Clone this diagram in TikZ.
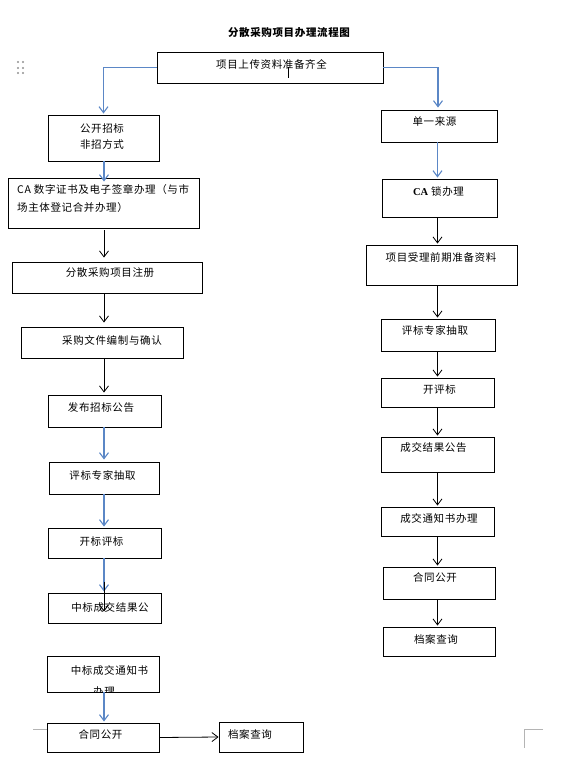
\documentclass[tikz,border=0pt]{standalone}
\usepackage{fontspec}
\setmainfont{Noto Sans CJK SC}[LetterSpace=6]
\newfontfamily\latinrm{Liberation Serif}
\usetikzlibrary{arrows.meta,calc}
\definecolor{flowblue}{HTML}{5B87C6}
\definecolor{markgrey}{HTML}{B4B4B4}

\begin{document}
\begin{tikzpicture}[x=1pt,y=-1pt,>={Straight Barb[length=6pt,width=9pt]},
  box/.style={draw,line width=0.9pt,inner sep=0pt},
  wh/.style 2 args={minimum width=#1pt,minimum height=#2pt},
  lbl/.style={inner sep=0pt,font=\fontsize{10.5}{12}\selectfont},
  blueflow/.style={->,draw=flowblue,line width=1.1pt},
  blackflow/.style={->,draw=black,line width=0.8pt}]

  \useasboundingbox (0,0) rectangle (567,757);

  \node[lbl,font=\fontsize{10.5}{12}\selectfont\bfseries] (title) at (289,33) {分散采购项目办理流程图};

  % top box
  \node[box,wh={226}{31}] (top) at (270,67.5) {};
  \node[lbl] (topt) at (271.5,64) {项目上传资料准备齐全};

  % left column
  \node[box,wh={111}{46}] (l1) at (103.5,138) {};
  \node[box,wh={191}{50}] (l2) at (103.5,203) {};
  \node[box,wh={190}{31}] (l3) at (107,277.5) {};
  \node[box,wh={162}{31}] (l4) at (102,342.5) {};
  \node[box,wh={113}{32}] (l5) at (104.5,411) {};
  \node[box,wh={110}{32}] (l6) at (104,478) {};
  \node[box,wh={113}{30}] (l7) at (104.5,543) {};
  \node[box,wh={113}{30}] (l8) at (104.5,608) {};
  \node[box,wh={112}{36}] (l9) at (103,674) {};
  \node[box,wh={112}{29}] (l10) at (103,737.5) {};
  \node[box,wh={84}{30}] (l11) at (261,737) {};

  \node[lbl,align=center] (l1t) at (102,136.5) {公开招标\\[4.5pt]非招方式};
  \node[lbl,anchor=west] (l2a) at (17,190) {CA 数字证书及电子签章办理（与市};
  \node[lbl,anchor=west] (l2b) at (17,208) {场主体登记合并办理）};
  \node[lbl] (l3t) at (110,273) {分散采购项目注册};
  \node[lbl] (l4t) at (112,340) {采购文件编制与确认};
  \node[lbl] (l5t) at (101,408) {发布招标公告};
  \node[lbl] (l6t) at (102.5,475) {评标专家抽取};
  \node[lbl] (l7t) at (101.5,542) {开标评标};
  \node[lbl] (l8t) at (110,607) {中标成交结果公};
  \node[lbl] (l9t) at (109.5,670) {中标成交通知书};
  \begin{scope}
    \clip (l9.north west) rectangle (l9.south east);
    \node[lbl] (l9u) at (104,692) {办理};
  \end{scope}
  \node[lbl] (l10t) at (100.5,735) {合同公开};
  \node[lbl] (l11t) at (250,734) {档案查询};

  % right column
  \node[box,wh={116}{32}] (r1) at (439,126) {};
  \node[box,wh={115}{38}] (r2) at (439.5,198) {};
  \node[box,wh={151}{40}] (r3) at (441.5,265) {};
  \node[box,wh={114}{32}] (r4) at (438,335) {};
  \node[box,wh={113}{29}] (r5) at (437.5,392.5) {};
  \node[box,wh={113}{35}] (r6) at (437.5,454.5) {};
  \node[box,wh={113}{29}] (r7) at (437.5,521.5) {};
  \node[box,wh={112}{32}] (r8) at (439,583) {};
  \node[box,wh={112}{29}] (r9) at (439,641.5) {};

  \node[lbl] (r1t) at (434.5,122) {单一来源};
  \node[lbl] (r2t) at (438.5,191) {{\latinrm\bfseries CA} 锁办理};
  \node[lbl] (r3t) at (441,258) {项目受理前期准备资料};
  \node[lbl] (r4t) at (435,330) {评标专家抽取};
  \node[lbl] (r5t) at (439.5,390) {开评标};
  \node[lbl] (r6t) at (433.5,448) {成交结果公告};
  \node[lbl] (r7t) at (439,518) {成交通知书办理};
  \node[lbl] (r8t) at (435,578) {合同公开};
  \node[lbl] (r9t) at (436,639) {档案查询};

  \coordinate (lx) at (104,0);
  \coordinate (rx) at (437.5,0);

  % connectors
  \draw[blueflow] (top.west) -| ([yshift=1pt]l1.north);
  \draw[blueflow] (top.east) -| ([yshift=2pt,xshift=-1pt]r1.north);

  \draw[blueflow,shorten >=-4pt] (l1.south -| lx) -- (l2.north -| lx);
  \draw[blackflow,shorten <=2pt,shorten >=4pt] (l2.south -| lx) -- (l3.north -| lx);
  \draw[blackflow,shorten >=4pt] (l3.south -| lx) -- (l4.north -| lx);
  \draw[blackflow,shorten >=2pt] (l4.south -| lx) -- (l5.north -| lx);
  \draw[blueflow,shorten >=2pt] (l5.south -| lx) -- (l6.north -| lx);
  \draw[blueflow,shorten >=1pt] (l6.south -| lx) -- (l7.north -| lx);
  \draw[blueflow,shorten >=1pt] (l7.south -| lx) -- (l8.north -| lx);
  \draw[blackflow] ($(l8.north -| lx)+(0,-11)$) -- ($(l8.north -| lx)+(0,19)$);
  \draw[blueflow,shorten >=1pt] (l9.south -| lx) -- (l10.north -| lx);
  \draw[blackflow] (l10.east) -- (l11.west);

  \draw[blueflow,shorten >=1pt] (r1.south -| rx) -- (r2.north -| rx);
  \path (r2.south -| rx) edge[blackflow,shorten >=1pt] (r3.north -| rx)
        (r3.south -| rx) edge[blackflow,shorten >=1pt] (r4.north -| rx)
        (r4.south -| rx) edge[blackflow,shorten >=1pt] (r5.north -| rx)
        (r5.south -| rx) edge[blackflow,shorten >=1pt] (r6.north -| rx)
        (r6.south -| rx) edge[blackflow,shorten >=1pt] (r7.north -| rx)
        (r7.south -| rx) edge[blackflow,shorten >=1pt] (r8.north -| rx)
        (r8.south -| rx) edge[blackflow,shorten >=1pt] (r9.north -| rx);

  % cursor mark and page corners
  \draw[line width=0.8pt] (288,67) -- (288,78);
  \draw[markgrey,line width=0.7pt] (33,729) -- (47,729);
  \draw[markgrey,line width=0.7pt] (543,729) -- (524,729) -- (524,748);
  \foreach \dx in {18,23}
    \foreach \dy in {62,68,73}
      \fill[markgrey!80!black] (\dx,\dy) circle (1.2);

\end{tikzpicture}
\end{document}
